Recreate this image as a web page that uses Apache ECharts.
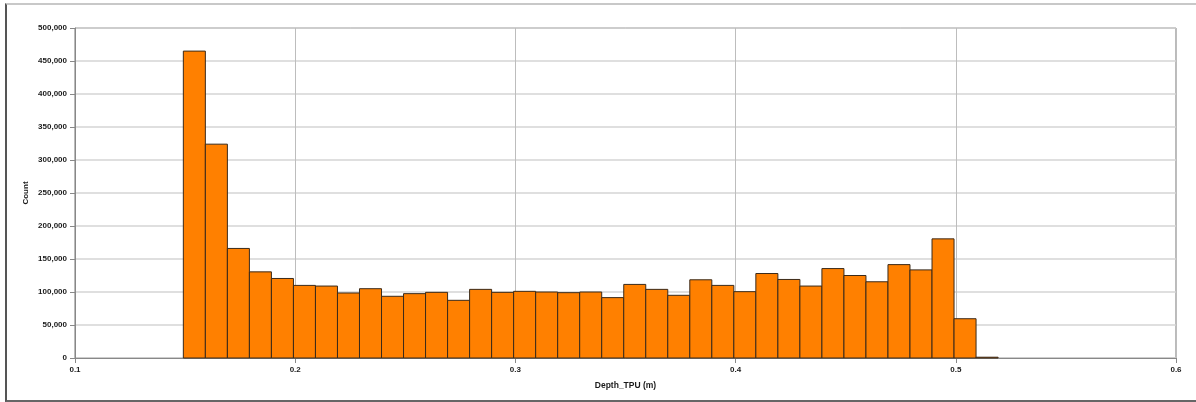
<!DOCTYPE html>
<html>
<head>
<meta charset="utf-8">
<script src="https://cdn.jsdelivr.net/npm/echarts@6/dist/echarts.min.js"></script>
<style>
html,body{margin:0;padding:0;background:#fff;}
#frame{position:absolute;left:5px;top:3px;width:1191px;height:395px;border-left:2px solid #555;border-top:2px solid #c8c8c8;border-bottom:2px solid #666;box-sizing:content-box;}
#chart{position:absolute;left:0;top:0;width:1196px;height:402px;}
</style>
</head>
<body>
<div id="frame"></div>
<div id="chart"></div>
<script>
// Histogram bins: lower edges, width, counts
const binStarts = [0.1492,0.1592,0.1692,0.1792,0.1892,0.1992,0.2092,0.2192,0.2292,0.2392,
  0.2492,0.2592,0.2692,0.2792,0.2892,0.2992,0.3092,0.3192,0.3292,0.3392,
  0.3492,0.3592,0.3692,0.3792,0.3892,0.3992,0.4092,0.4192,0.4292,0.4392,
  0.4492,0.4592,0.4692,0.4792,0.4892,0.4992,0.5092];
const binWidth = 0.01;
const counts = [465000,324000,166000,130500,120500,110000,109000,98500,105000,93500,
  97500,99500,87400,104000,99500,101000,100000,99000,100000,91500,
  111500,104000,95000,118500,110000,100500,128000,119000,109000,135500,
  125000,115500,141500,133500,180500,59500,1200];
const xTicks = {min:0.1, max:0.6, interval:0.1};
const yTicks = {min:0, max:500000, interval:50000};
const xName = 'Depth_TPU (m)';
const yName = 'Count';

const data = binStarts.map((s,i)=>[s, s+binWidth, counts[i]]);
const chart = echarts.init(document.getElementById('chart'));
const lblFont = {fontFamily:'Liberation Sans', fontWeight:'bold', fontSize:8, color:'#1a1a1a'};
chart.setOption({
  animation:false,
  grid:{left:75, right:20, top:28, bottom:44, show:true, borderColor:'#777', borderWidth:1, backgroundColor:'transparent'},
  xAxis:{type:'value', min:xTicks.min, max:xTicks.max, interval:xTicks.interval,
    name:xName, nameLocation:'middle', nameGap:23, nameMoveOverlap:false,
    nameTextStyle:Object.assign({}, lblFont, {fontSize:8.5}),
    axisLine:{show:true, lineStyle:{color:'#888'}},
    axisTick:{show:true, length:5, lineStyle:{color:'#888'}},
    axisLabel:Object.assign({}, lblFont, {margin:8, formatter:v=>(+v.toFixed(1)).toString()}),
    splitLine:{show:true, lineStyle:{color:'#bdbdbd', width:1}}},
  yAxis:{type:'value', min:yTicks.min, max:yTicks.max, interval:yTicks.interval,
    name:yName, nameLocation:'middle', nameGap:45, nameRotate:90, nameMoveOverlap:false,
    nameTextStyle:lblFont,
    axisLine:{show:true, lineStyle:{color:'#888'}},
    axisTick:{show:true, length:5, lineStyle:{color:'#888'}},
    axisLabel:Object.assign({}, lblFont, {margin:8, formatter:v=>v.toLocaleString('en-US')}),
    splitLine:{show:true, lineStyle:{color:'#d4d4d4', width:1.5}}},
  series:[{type:'custom', data:data,
    renderItem:function(params, api){
      const p0 = api.coord([api.value(0), 0]);
      const p1 = api.coord([api.value(1), api.value(2)]);
      return {type:'rect', shape:{x:p0[0], y:p1[1], width:p1[0]-p0[0], height:p0[1]-p1[1]},
        style:{fill:'#ff8000', stroke:'#3a2a1a', lineWidth:1}};
    },
    encode:{x:[0,1], y:2}}]
});
</script>
</body>
</html>
